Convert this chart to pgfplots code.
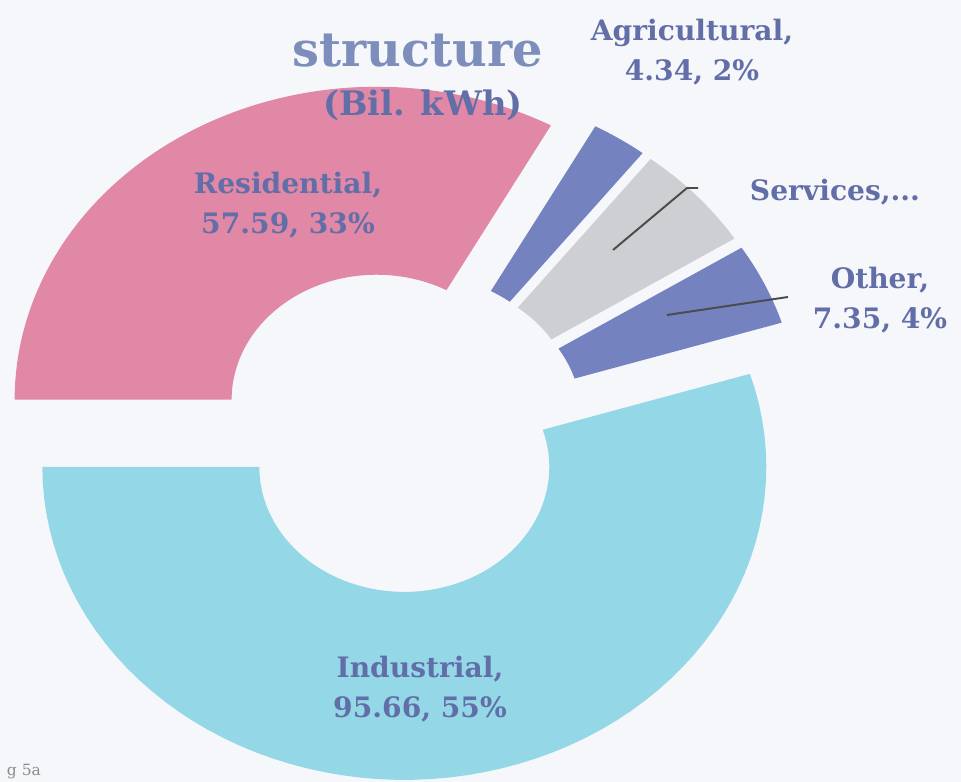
\documentclass[border=0pt]{standalone}
\usepackage{pgfplots}
\pgfplotsset{compat=1.18}
\usepackage{fontspec}
\setmainfont{DejaVu Serif}

\definecolor{paper}{RGB}{246,247,250}
\definecolor{resC}{RGB}{224,136,166}
\definecolor{indC}{RGB}{148,216,232}
\definecolor{bluC}{RGB}{116,130,192}
\definecolor{serC}{RGB}{206,207,210}
\definecolor{txt}{RGB}{98,110,168}
\definecolor{ttl}{RGB}{125,142,188}

% values (Bil. kWh), clockwise from 9 o'clock
\def\vRes{57.59}
\def\vAgr{4.34}
\def\vSer{9.60}
\def\vOth{7.35}
\def\vInd{95.66}

% geometry in picture units
\def\Cx{398}\def\Cy{351}
\def\Rx{362}\def\Ry{313}
\def\rx{145}\def\ry{125}
\def\dd{42}\def\sq{0.865}

\newcommand\sector[3]{%
  \pgfmathsetmacro\mid{(#1+#2)/2}%
  \pgfmathsetmacro\cx{\Cx+\dd*cos(\mid)}%
  \pgfmathsetmacro\cy{\Cy+\dd*\sq*sin(\mid)}%
  \edef\doit{\noexpand\fill[#3] plot[domain=#1:#2,samples=70,variable=\noexpand\t]
    ({\cx+\Rx*cos(\noexpand\t)},{\cy+\Ry*sin(\noexpand\t)}) --
    plot[domain=#2:#1,samples=70,variable=\noexpand\t]
    ({\cx+\rx*cos(\noexpand\t)},{\cy+\ry*sin(\noexpand\t)}) -- cycle;}%
  \doit}

\begin{document}
\begin{tikzpicture}
\pgfmathsetmacro\tot{\vRes+\vAgr+\vSer+\vOth+\vInd}
\pgfmathsetmacro\aA{180}
\pgfmathsetmacro\aB{\aA-\vRes/\tot*360}
\pgfmathsetmacro\aC{\aB-\vAgr/\tot*360}
\pgfmathsetmacro\aD{\aC-\vSer/\tot*360}
\pgfmathsetmacro\aE{\aD-\vOth/\tot*360}
\pgfmathsetmacro\aF{\aE-\vInd/\tot*360}
\begin{axis}[
  x=0.025cm, y=0.025cm,
  xmin=0, xmax=961, ymin=0, ymax=782,
  scale only axis, hide axis, clip=false,
]
\fill[paper] (0,0) rectangle (961,782);
\coordinate (bl) at (0,0);
\coordinate (tr) at (961,782);

\sector{\aB}{\aA}{resC}
\sector{\aC}{\aB}{bluC}
\sector{\aD}{\aC}{serC}
\sector{\aE}{\aD}{bluC}
\sector{\aF}{\aE}{indC}

% leader lines
\draw[black!70, line width=1.4pt] (613,532) -- (687,594) -- (698,594);
\draw[black!70, line width=1.4pt] (667,467) -- (788,485);

\node[font=\bfseries\fontsize{34}{36}\selectfont, text=ttl, anchor=base] at (418,715) {structure};
\node[font=\bfseries\fontsize{24}{26}\selectfont, text=txt] at (423,677) {(Bil. kWh)};

\begin{scope}[every node/.style={font=\bfseries\fontsize{20}{28}\selectfont, text=txt, align=center}]
\node at (692,730) {Agricultural,\\4.34, 2\%};
\node at (288,577) {Residential,\\57.59, 33\%};
\node at (835,590) {Services,...};
\node at (880,482) {Other,\\7.35, 4\%};
\node at (420,93) {Industrial,\\95.66, 55\%};
\end{scope}
\node[font=\fontsize{11}{12}\selectfont, text=black!45, anchor=base west] at (2,6) {g 5a};
\end{axis}
\pgfresetboundingbox
\path (bl) rectangle (tr);
\end{tikzpicture}
\end{document}
